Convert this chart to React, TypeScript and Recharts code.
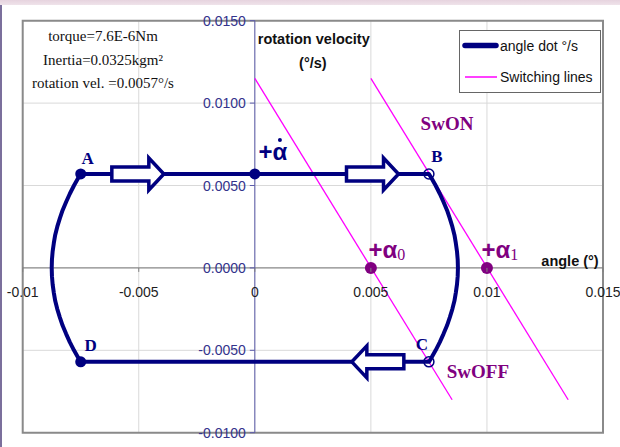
import React from 'react';
import {
  ComposedChart,
  Scatter,
  XAxis,
  YAxis,
  CartesianGrid,
  ReferenceLine,
  ReferenceArea,
} from 'recharts';

// ---- axes ----
const X_TICKS = [-0.01, -0.005, 0, 0.005, 0.01, 0.015];
const X_TICK_LABELS = ['-0.01', '-0.005', '0', '0.005', '0.01', '0.015'];
const Y_TICKS = [-0.01, -0.005, 0, 0.005, 0.01, 0.015];
const Y_TICK_LABELS = ['-0.0100', '-0.0050', '0.0000', '0.0050', '0.0100', '0.0150'];

// ---- phase trajectory (angle °, angle dot °/s), clockwise from A ----
const trajAngle = [
  -0.0075, 0.0075, 0.00759, 0.00779, 0.00797, 0.00813, 0.00828, 0.0084, 0.00851, 0.0086, 0.00866, 0.00871,
  0.00874, 0.00875, 0.00874, 0.00871, 0.00866, 0.0086, 0.00851, 0.0084, 0.00828, 0.00813, 0.00797, 0.00779,
  0.00759, 0.0075, -0.0075, -0.00759, -0.00779, -0.00797, -0.00813, -0.00828, -0.0084, -0.00851, -0.0086,
  -0.00866, -0.00871, -0.00874, -0.00875, -0.00874, -0.00871, -0.00866, -0.0086, -0.00851, -0.0084, -0.00828,
  -0.00813, -0.00797, -0.00779, -0.00759, -0.0075,
];
const trajVelocity = [
  0.0057, 0.0057, 0.0055, 0.005, 0.0045, 0.004, 0.0035, 0.003, 0.0025, 0.002, 0.0015, 0.001, 0.0005, 0,
  -0.0005, -0.001, -0.0015, -0.002, -0.0025, -0.003, -0.0035, -0.004, -0.0045, -0.005, -0.0055, -0.0057,
  -0.0057, -0.0055, -0.005, -0.0045, -0.004, -0.0035, -0.003, -0.0025, -0.002, -0.0015, -0.001, -0.0005, 0,
  0.0005, 0.001, 0.0015, 0.002, 0.0025, 0.003, 0.0035, 0.004, 0.0045, 0.005, 0.0055, 0.0057,
];

// ---- switching lines ----
const swOffLine = [
  { x: 0, y: 0.0115 },
  { x: 0.0085, y: -0.008 },
];
const swOnLine = [
  { x: 0.005, y: 0.0115 },
  { x: 0.0135, y: -0.008 },
];

// ---- marked states ----
const solidStates = [
  { x: -0.0075, y: 0.0057 },
  { x: 0, y: 0.0057 },
  { x: -0.0075, y: -0.0057 },
];
const switchStates = [
  { x: 0.0075, y: 0.0057 },
  { x: 0.0075, y: -0.0057 },
];
const alphaPoints = [
  { x: 0.005, y: 0 },
  { x: 0.01, y: 0 },
];

// ---- direction arrows ----
const arrows = [
  { x: -0.00504, y: 0.0057, dir: 1 },
  { x: 0.00507, y: 0.0057, dir: 1 },
  { x: 0.0053, y: -0.0057, dir: -1 },
];

// ---- text annotations ----
const stateLabels = [
  { x: -0.0072, y: 0.00662, text: 'A' },
  { x: 0.00784, y: 0.00674, text: 'B' },
  { x: 0.0072, y: -0.00467, text: 'C' },
  { x: -0.00707, y: -0.00473, text: 'D' },
];
const switchLabels = [
  { x: 0.00828, y: 0.00874, text: 'SwON' },
  { x: 0.00961, y: -0.00631, text: 'SwOFF' },
];
const alphaLabels = [
  { x: 0.00569, y: 0.00115, sub: '0' },
  { x: 0.01056, y: 0.00115, sub: '1' },
];
const alphaDotLabel = [{ x: 0.00078, y: 0.00704 }];
const axisTitles = [
  { x: 0.00254, y: 0.0139, text: 'rotation velocity' },
  { x: 0.0025, y: 0.01245, text: '(°/s)' },
  { x: 0.01358, y: 0.00042, text: 'angle (°)' },
];

const paramLines = ['torque=7.6E-6Nm', 'Inertia=0.0325kgm²', 'rotation vel. =0.0057°/s'];
const legendItems = ['angle dot °/s', 'Switching lines'];

const trajectory = trajAngle.map((x, i) => ({ x, y: trajVelocity[i] }));
const xTickData = X_TICKS.map((x, i) => ({ x, y: 0, label: X_TICK_LABELS[i] }));
const yTickData = Y_TICKS.map((y, i) => ({ x: 0, y, label: Y_TICK_LABELS[i] }));

const SANS = '"Liberation Sans", Arial, sans-serif';
const SERIF = '"Liberation Serif", "Times New Roman", serif';
const NAVY = '#000080';
const PURPLE = '#800080';
const MAGENTA = '#ff00ff';
const TICK_BLUE = '#33338c';
const AXIS_BLUE = '#5c5cab';

const Empty = () => <g />;

const XTick = (p: any) => (
  <g>
    <line x1={p.cx} y1={p.cy} x2={p.cx} y2={p.cy + 4} stroke="#808080" />
    <text x={p.cx} y={p.cy + 24} textAnchor="middle" dominantBaseline="central" fontFamily={SANS} fontSize={14} fill="#1e1e1e">
      {p.payload.label}
    </text>
  </g>
);

const YTick = (p: any) => (
  <g>
    <line x1={p.cx - 5} y1={p.cy} x2={p.cx} y2={p.cy} stroke={AXIS_BLUE} />
    <text x={p.cx - 9} y={p.cy} textAnchor="end" dominantBaseline="central" fontFamily={SANS} fontSize={14} fill={TICK_BLUE}>
      {p.payload.label}
    </text>
  </g>
);

const SolidDot = (p: any) => <circle cx={p.cx} cy={p.cy} r={5.5} fill={NAVY} />;
const OpenDot = (p: any) => <circle cx={p.cx} cy={p.cy} r={5} fill="none" stroke={NAVY} strokeWidth={1.5} />;
const PurpleDot = (p: any) => <circle cx={p.cx} cy={p.cy} r={6} fill={PURPLE} />;

const BlockArrow = (p: any) => {
  const d = p.payload.dir;
  const pts = [
    [-26, -7],
    [11, -7],
    [11, -16],
    [26, 0],
    [11, 16],
    [11, 7],
    [-26, 7],
  ]
    .map(([dx, dy]) => `${p.cx + dx * d},${p.cy + dy}`)
    .join(' ');
  return <polygon points={pts} fill="#fff" stroke={NAVY} strokeWidth={3.5} strokeLinejoin="miter" />;
};

const StateText = (p: any) => (
  <text x={p.cx} y={p.cy} textAnchor="middle" dominantBaseline="central" fontFamily={SERIF} fontWeight="bold" fontSize={17} fill={NAVY}>
    {p.payload.text}
  </text>
);

const SwitchText = (p: any) => (
  <text x={p.cx} y={p.cy} textAnchor="middle" dominantBaseline="central" fontFamily={SERIF} fontWeight="bold" fontSize={19} fill={PURPLE}>
    {p.payload.text}
  </text>
);

const AlphaText = (p: any) => (
  <text x={p.cx} y={p.cy} textAnchor="middle" dominantBaseline="central" fill={PURPLE}>
    <tspan fontFamily={SANS} fontWeight="bold" fontSize={24}>+α</tspan>
    <tspan fontFamily={SERIF} fontSize={16} dy={5}>{p.payload.sub}</tspan>
  </text>
);

// "+α" with the time-derivative dot placed over the alpha
const AlphaDotText = (p: any) => (
  <g>
    <text x={p.cx} y={p.cy} textAnchor="middle" dominantBaseline="central" fontFamily={SANS} fontWeight="bold" fontSize={24} fill={NAVY}>
      +α
    </text>
    <circle cx={p.cx + 7} cy={p.cy - 12} r={2} fill={NAVY} />
  </g>
);

const TitleText = (p: any) => (
  <text x={p.cx} y={p.cy} textAnchor="middle" dominantBaseline="central" fontFamily={SANS} fontWeight="bold" fontSize={14.5} fill="#111">
    {p.payload.text}
  </text>
);

export default function App() {
  return (
    <div style={{ position: 'absolute', left: 0, top: 0, width: 620, height: 447, background: '#fff', overflow: 'hidden' }}>
      <div style={{ position: 'absolute', left: 0, top: 0, width: 620, height: 5, background: 'linear-gradient(#e6d3de, #efe3ea)' }} />
      <div style={{ position: 'absolute', left: 0, top: 5, width: 2, height: 442, background: '#7b6f9c' }} />
      <div style={{ position: 'absolute', left: 0, top: 0 }}>
        <ComposedChart width={620} height={447} margin={{ top: 20.7, right: 17, bottom: 14.3, left: 22.7 }}>
          <XAxis type="number" dataKey="x" domain={[-0.01, 0.015]} ticks={X_TICKS} hide />
          <YAxis type="number" dataKey="y" domain={[-0.01, 0.015]} ticks={Y_TICKS} hide />
          <CartesianGrid stroke="#d9d9d9" strokeWidth={1} />
          <ReferenceArea x1={-0.01} x2={0.015} y1={-0.01} y2={0.015} fill="none" fillOpacity={0} stroke="#8a8a8a" strokeWidth={2} />
          <ReferenceLine y={0} stroke="#7a7a7a" strokeWidth={1} />
          <ReferenceLine x={0} stroke={AXIS_BLUE} strokeWidth={1} />

          <Scatter data={swOffLine} line={{ stroke: MAGENTA, strokeWidth: 1.3 }} shape={Empty} isAnimationActive={false} />
          <Scatter data={swOnLine} line={{ stroke: MAGENTA, strokeWidth: 1.3 }} shape={Empty} isAnimationActive={false} />
          <Scatter data={trajectory} line={{ stroke: NAVY, strokeWidth: 4, strokeLinejoin: 'round' }} shape={Empty} isAnimationActive={false} />

          <Scatter data={arrows} shape={BlockArrow} isAnimationActive={false} />
          <Scatter data={solidStates} shape={SolidDot} isAnimationActive={false} />
          <Scatter data={switchStates} shape={OpenDot} isAnimationActive={false} />
          <Scatter data={alphaPoints} shape={PurpleDot} isAnimationActive={false} />

          <Scatter data={xTickData} shape={XTick} isAnimationActive={false} />
          <Scatter data={yTickData} shape={YTick} isAnimationActive={false} />

          <Scatter data={stateLabels} shape={StateText} isAnimationActive={false} />
          <Scatter data={switchLabels} shape={SwitchText} isAnimationActive={false} />
          <Scatter data={alphaLabels} shape={AlphaText} isAnimationActive={false} />
          <Scatter data={alphaDotLabel} shape={AlphaDotText} isAnimationActive={false} />
          <Scatter data={axisTitles} shape={TitleText} isAnimationActive={false} />
        </ComposedChart>
      </div>
      <svg width={620} height={447} style={{ position: 'absolute', left: 0, top: 0, pointerEvents: 'none' }}>
        {paramLines.map((t, i) => (
          <text key={t} x={103} y={36 + i * 23.5} textAnchor="middle" dominantBaseline="central" fontFamily={SERIF} fontSize={15} fill="#111">
            {t}
          </text>
        ))}
        <rect x={459.5} y={30.5} width={141} height={62} fill="#fff" stroke="#666" strokeWidth={1} />
        <line x1={465} y1={45.5} x2={496} y2={45.5} stroke={NAVY} strokeWidth={5.5} strokeLinecap="round" />
        <line x1={465} y1={77} x2={497} y2={77} stroke={MAGENTA} strokeWidth={1.5} />
        {legendItems.map((t, i) => (
          <text key={t} x={500} y={46 + i * 31} dominantBaseline="central" fontFamily={SANS} fontSize={14} fill="#111">
            {t}
          </text>
        ))}
      </svg>
    </div>
  );
}
